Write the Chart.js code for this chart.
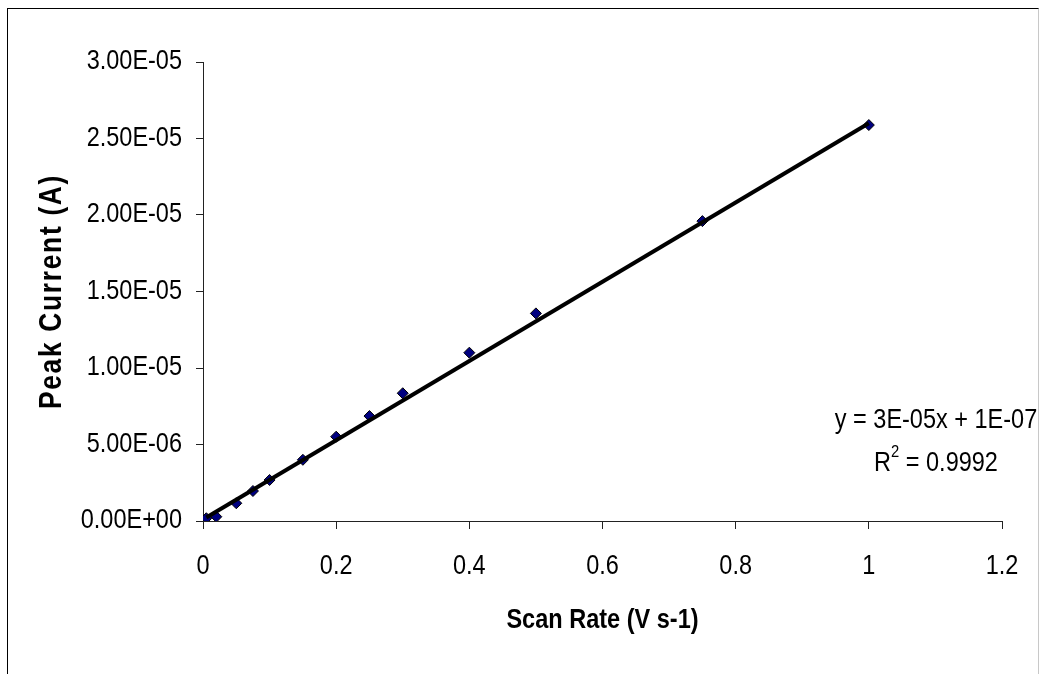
<!DOCTYPE html>
<html>
<head>
<meta charset="utf-8">
<title>Peak Current vs Scan Rate</title>
<script src="https://cdn.jsdelivr.net/npm/chart.js@4/dist/chart.umd.min.js"></script>
<style>
    html, body {
        margin: 0;
        padding: 0;
        background: #fff;
        overflow: hidden;
    }
    #wrap {
        position: relative;
        width: 1040px;
        height: 674px;
    }
    #frame {
        position: absolute;
        left: 7px;
        top: 8px;
        width: 1030px;
        height: 720px;
        border-left: 1.5px solid #000;
        border-top: 1.5px solid #000;
        border-right: 1px solid #c8c8c8;
    }
    #chart {
        position: absolute;
        left: 0;
        top: 0;
    }
</style>
</head>
<body>
<div id="wrap">
    <div id="frame"></div>
    <canvas id="chart" width="1040" height="674"></canvas>
</div>
<script>
// Scan rate (V s-1) and measured peak current (A)
const scanRates = [0.005, 0.02, 0.05, 0.075, 0.1, 0.15, 0.2, 0.25, 0.3, 0.4, 0.5, 0.75, 1.0];
const peakCurrents = [
    1.8e-7, 2.8e-7, 1.16e-6, 1.96e-6, 2.68e-6, 4.0e-6, 5.51e-6,
    6.86e-6, 8.35e-6, 1.10e-5, 1.357e-5, 1.96e-5, 2.588e-5,
];

// Linear trendline end points (as drawn in the reference)
const trendX = [0.005, 1.0];
const trendY = [2.3e-7, 2.6e-5];

// Axis ticks
const xTicks = [0, 0.2, 0.4, 0.6, 0.8, 1.0, 1.2];
const yTicks = [0, 5e-6, 1e-5, 1.5e-5, 2e-5, 2.5e-5, 3e-5];

const xTitle = "Scan Rate (V s-1)";
const yTitle = "Peak Current (A)";
const equationText = "y = 3E-05x + 1E-07";
const r2Value = "0.9992";

// Narrow Helvetica look: Liberation Sans squeezed sideways
const FONT = "'Liberation Sans', Arial, sans-serif";
const SQUEEZE = 0.87;

/**
 * Excel style scientific label, e.g. 2.50E-05
 */
function sciLabel(v) {
    const [mant, exp] = v.toExponential(2).split("e");
    const n = parseInt(exp, 10);
    const sign = n < 0 ? "-" : "+";
    return `${mant}E${sign}${String(Math.abs(n)).padStart(2, "0")}`;
}

/**
 * Draw text squeezed horizontally around its anchor
 */
function narrowText(ctx, text, x, y, align, sx) {
    ctx.save();
    ctx.translate(x, y);
    ctx.scale(sx, 1);
    ctx.textAlign = align;
    ctx.fillText(text, 0, 0);
    ctx.restore();
}

/**
 * Tick labels, axis titles and the trendline equation
 */
const annotations = {
    id: "annotations",
    afterDraw(chart) {
        const ctx = chart.ctx;
        const area = chart.chartArea;
        const xs = chart.scales.x;
        const ys = chart.scales.y;
        ctx.save();
        ctx.fillStyle = "#000";
        ctx.textBaseline = "middle";

        // tick labels
        ctx.font = `27px ${FONT}`;
        xTicks.forEach((v) => {
            narrowText(ctx, String(v), xs.getPixelForValue(v), 567, "center", SQUEEZE);
        });
        yTicks.forEach((v) => {
            narrowText(ctx, sciLabel(v), 182, ys.getPixelForValue(v), "right", SQUEEZE);
        });

        // x title
        ctx.font = `bold 28px ${FONT}`;
        narrowText(ctx, xTitle, (area.left + area.right) / 2, 620, "center", 0.84);

        // y title, rotated, spaced out
        ctx.save();
        ctx.translate(52, (area.top + area.bottom) / 2);
        ctx.rotate(-Math.PI / 2);
        ctx.font = `bold 31px ${FONT}`;
        ctx.letterSpacing = "2px";
        narrowText(ctx, yTitle, 0, 0, "center", 0.85);
        ctx.restore();

        // trendline equation
        const cx = 936;
        ctx.font = `27px ${FONT}`;
        narrowText(ctx, equationText, cx, 421, "center", SQUEEZE);

        // R^2 line with superscript
        const mainFont = `27px ${FONT}`;
        const supFont = `17px ${FONT}`;
        const rest = " = " + r2Value;
        ctx.font = mainFont;
        const wR = ctx.measureText("R").width * SQUEEZE;
        const wRest = ctx.measureText(rest).width * SQUEEZE;
        ctx.font = supFont;
        const wSup = ctx.measureText("2").width * SQUEEZE;
        let x = cx - (wR + wSup + wRest) / 2;
        ctx.font = mainFont;
        narrowText(ctx, "R", x, 464, "left", SQUEEZE);
        x += wR;
        ctx.font = supFont;
        narrowText(ctx, "2", x, 452, "left", SQUEEZE);
        x += wSup;
        ctx.font = mainFont;
        narrowText(ctx, rest, x, 464, "left", SQUEEZE);

        ctx.restore();
    },
};

new Chart(document.getElementById("chart"), {
    type: "scatter",
    data: {
        datasets: [
            {
                label: "Trendline",
                data: trendX.map((x, i) => ({ x, y: trendY[i] })),
                showLine: true,
                borderColor: "#000",
                borderWidth: 4,
                pointRadius: 0,
                order: 0,
            },
            {
                label: "Peak current",
                data: scanRates.map((x, i) => ({ x, y: peakCurrents[i] })),
                pointStyle: "rectRot",
                pointRadius: 5.5,
                backgroundColor: "#000080",
                borderColor: "#000",
                borderWidth: 1,
                order: 1,
            },
        ],
    },
    options: {
        responsive: false,
        animation: false,
        layout: {
            padding: { left: 0, top: 62, right: 38, bottom: 0 },
        },
        plugins: {
            legend: { display: false },
            tooltip: { enabled: false },
        },
        scales: {
            x: {
                type: "linear",
                min: 0,
                max: 1.2,
                afterFit(scale) {
                    scale.height = 153;
                },
                afterBuildTicks(scale) {
                    scale.ticks = xTicks.map((v) => ({ value: v }));
                },
                grid: {
                    drawOnChartArea: false,
                    drawTicks: true,
                    tickLength: 8,
                    color: "#222",
                },
                border: { display: true, color: "#222", width: 1 },
                ticks: { display: false },
            },
            y: {
                type: "linear",
                min: 0,
                max: 3e-5,
                afterFit(scale) {
                    scale.width = 203;
                },
                afterBuildTicks(scale) {
                    scale.ticks = yTicks.map((v) => ({ value: v }));
                },
                grid: {
                    drawOnChartArea: false,
                    drawTicks: true,
                    tickLength: 7,
                    color: "#222",
                },
                border: { display: true, color: "#222", width: 1 },
                ticks: { display: false },
            },
        },
    },
    plugins: [annotations],
});
</script>
</body>
</html>
